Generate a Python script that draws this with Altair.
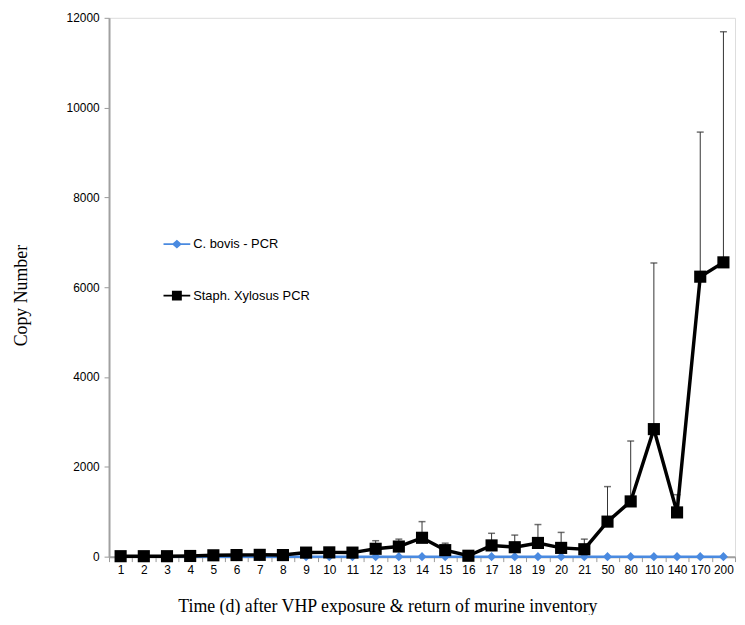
import altair as alt
import pandas as pd

days = ["1", "2", "3", "4", "5", "6", "7", "8", "9", "10", "11", "12", "13", "14",
        "15", "16", "17", "18", "19", "20", "21", "50", "80", "110", "140", "170", "200"]
series_names = ["C. bovis - PCR", "Staph. Xylosus PCR"]
bovis = [0] * 27
staph = [10, 10, 10, 15, 30, 35, 40, 35, 90, 95, 90, 175, 225, 420, 145, 20,
         250, 210, 305, 195, 165, 780, 1230, 2840, 985, 6235, 6554]
staph_err = [10, 10, 10, 10, 20, 20, 20, 20, 30, 25, 25, 180, 165, 360, 155, 10,
             270, 270, 410, 345, 225, 780, 1345, 3700, 395, 3220, 5136]

BLUE = "#4a8ae0"
rows = []
for d, v in zip(days, bovis):
    rows.append({"day": d, "series": series_names[0], "value": v, "top": v})
for d, v, e in zip(days, staph, staph_err):
    rows.append({"day": d, "series": series_names[1], "value": v, "top": v + e})
df = pd.DataFrame(rows)

diamond_line = "M-1,-0.06L-0.3,-0.06L0,-0.32L0.3,-0.06L1,-0.06L1,0.06L0.3,0.06L0,0.32L-0.3,0.06L-1,0.06Z"
square_line = "M-1,-0.07L-0.37,-0.07L-0.37,-0.37L0.37,-0.37L0.37,-0.07L1,-0.07L1,0.07L0.37,0.07L0.37,0.37L-0.37,0.37L-0.37,0.07L-1,0.07Z"

x_enc = alt.X("day:N", sort=days,
              scale=alt.Scale(type="band", paddingInner=0, paddingOuter=0),
              axis=alt.Axis(title="Time (d) after VHP exposure & return of murine inventory",
                            labelAngle=0, tickBand="extent", tickSize=5, tickColor="#999999",
                            domainColor="#a0a0a0", domainWidth=2, labelFont="Liberation Sans",
                            labelFontSize=12, labelColor="black", labelPadding=3,
                            titleFont="Liberation Serif", titleFontSize=18, titleFontWeight="normal",
                            titleColor="black", titleX=281, titleY=50, titleAlign="center",
                            titleBaseline="middle", grid=False))
y_scale = alt.Scale(domain=[0, 12000], nice=False)
y_enc = alt.Y("value:Q", scale=y_scale,
              axis=alt.Axis(title="Copy Number", values=list(range(0, 12001, 2000)), format="d",
                            tickSize=5, tickColor="#999999", domainColor="#a0a0a0", domainWidth=2,
                            labelFont="Liberation Sans", labelFontSize=12, labelColor="black",
                            labelPadding=5, titleFont="Liberation Serif", titleFontSize=18,
                            titleFontWeight="normal", titleColor="black", titleX=-88, titleY=280,
                            titleAngle=-90, titleAlign="center", titleBaseline="middle", grid=False))

base = alt.Chart(df)
blue_data = base.transform_filter(alt.datum.series == series_names[0])
black_data = base.transform_filter(alt.datum.series == series_names[1])

line_blue = blue_data.mark_line(color=BLUE, strokeWidth=2.5).encode(x=x_enc, y=y_enc)
pts_blue = blue_data.mark_point(filled=True, opacity=1, color=BLUE, shape="diamond",
                                size=85).encode(x=x_enc, y=y_enc)
line_black = black_data.mark_line(color="black", strokeWidth=3.5).encode(x=x_enc, y=y_enc)
pts_black = black_data.mark_point(filled=True, opacity=1, color="black", shape="square",
                                  size=150).encode(x=x_enc, y=y_enc)

rules = black_data.mark_rule(color="#333333", strokeWidth=1).encode(
    x=x_enc, y=alt.Y("value:Q", scale=y_scale), y2="top:Q")
caps = black_data.mark_tick(color="#333333", thickness=1.5, size=7).encode(
    x=x_enc, y=alt.Y("top:Q", scale=y_scale))

legend = alt.Legend(orient="none", legendX=55, legendY=215, title=None,
                    labelFont="Liberation Sans", labelFontSize=13, labelColor="black",
                    symbolSize=729, rowPadding=31, labelOffset=3, padding=0,
                    symbolStrokeWidth=0, symbolOpacity=1)

legend_layer = base.transform_filter("false").mark_point(filled=True, opacity=1).encode(
    x=x_enc, y=y_enc,
    color=alt.Color("series:N", scale=alt.Scale(domain=series_names, range=[BLUE, "black"]),
                    legend=legend),
    shape=alt.Shape("series:N", scale=alt.Scale(domain=series_names,
                                                range=[diamond_line, square_line]),
                    legend=legend),
)

chart = alt.layer(line_blue, pts_blue, rules, caps, line_black, pts_black, legend_layer).properties(
    width=632, height=544,
    autosize=alt.AutoSizeParams(type="none"),
    padding={"left": 102, "top": 7, "right": 2, "bottom": 56},
).configure_view(stroke="#3a3a3a", strokeWidth=1.3).configure(background="white")

chart.save("out.html", embed_options={"renderer": "svg", "actions": False})
